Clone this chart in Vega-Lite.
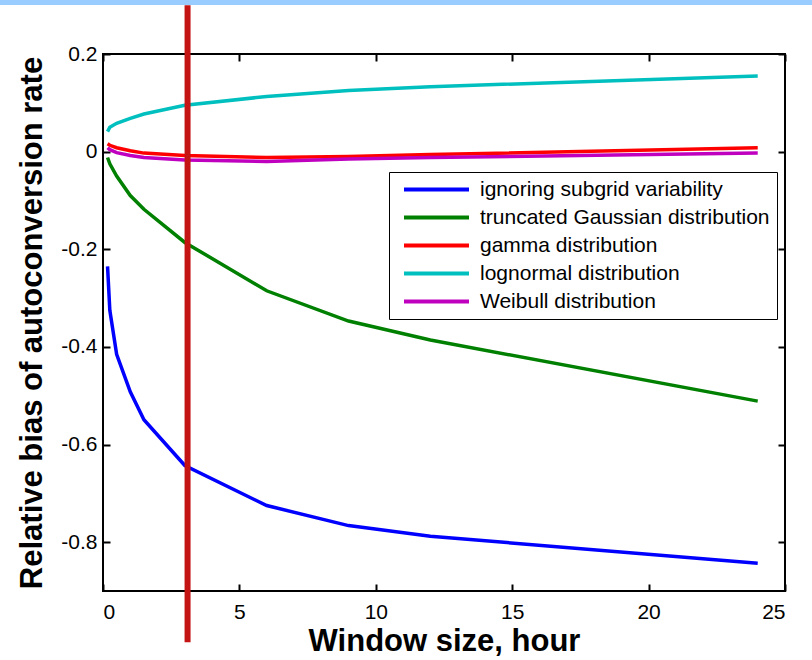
{
  "$schema": "https://vega.github.io/schema/vega-lite/v6.json",
  "width": 682,
  "height": 537,
  "autosize": {"type": "none"},
  "padding": {"left": 103, "top": 54, "right": 27, "bottom": 69},
  "background": "white",
  "config": {
    "view": {"stroke": "#000000", "strokeWidth": 2},
    "font": "Liberation Sans",
    "axis": {
      "domain": false,
      "tickColor": "#000000",
      "tickOpacity": 1,
      "tickWidth": 2,
      "tickSize": -7,
      "grid": false,
      "labelColor": "black",
      "titleColor": "black",
      "labelFont": "Liberation Sans",
      "titleFont": "Liberation Sans",
      "labelFontSize": 21,
      "titleFontSize": 31,
      "titleFontWeight": "bold"
    },
    "legend": {
      "orient": "none",
      "legendX": 286,
      "legendY": 118,
      "strokeColor": "black",
      "fillColor": "white",
      "padding": 7,
      "labelFont": "Liberation Sans",
      "labelFontSize": 21,
      "labelColor": "black",
      "labelLimit": 500,
      "symbolType": "M-5,0H5",
      "symbolSize": 169,
      "symbolStrokeWidth": 4,
      "symbolOffset": 30,
      "labelOffset": 33,
      "rowPadding": 6
    }
  },
  "layer": [
    {
      "data": {
        "values": [
          {"x": 0.1667, "y": -0.235, "series": "ignoring subgrid variability"},
          {"x": 0.25, "y": -0.325, "series": "ignoring subgrid variability"},
          {"x": 0.5, "y": -0.415, "series": "ignoring subgrid variability"},
          {"x": 1, "y": -0.492, "series": "ignoring subgrid variability"},
          {"x": 1.5, "y": -0.549, "series": "ignoring subgrid variability"},
          {"x": 3, "y": -0.643, "series": "ignoring subgrid variability"},
          {"x": 6, "y": -0.725, "series": "ignoring subgrid variability"},
          {"x": 9, "y": -0.766, "series": "ignoring subgrid variability"},
          {"x": 12, "y": -0.788, "series": "ignoring subgrid variability"},
          {"x": 24, "y": -0.843, "series": "ignoring subgrid variability"},
          {"x": 0.1667, "y": -0.012, "series": "truncated Gaussian distribution"},
          {"x": 0.25, "y": -0.025, "series": "truncated Gaussian distribution"},
          {"x": 0.5, "y": -0.05, "series": "truncated Gaussian distribution"},
          {"x": 1, "y": -0.09, "series": "truncated Gaussian distribution"},
          {"x": 1.5, "y": -0.118, "series": "truncated Gaussian distribution"},
          {"x": 3, "y": -0.186, "series": "truncated Gaussian distribution"},
          {"x": 6, "y": -0.285, "series": "truncated Gaussian distribution"},
          {"x": 9, "y": -0.347, "series": "truncated Gaussian distribution"},
          {"x": 12, "y": -0.386, "series": "truncated Gaussian distribution"},
          {"x": 24, "y": -0.511, "series": "truncated Gaussian distribution"},
          {"x": 0.1667, "y": 0.016, "series": "gamma distribution"},
          {"x": 0.25, "y": 0.013, "series": "gamma distribution"},
          {"x": 0.5, "y": 0.008, "series": "gamma distribution"},
          {"x": 1, "y": 0.002, "series": "gamma distribution"},
          {"x": 1.5, "y": -0.003, "series": "gamma distribution"},
          {"x": 3, "y": -0.008, "series": "gamma distribution"},
          {"x": 6, "y": -0.012, "series": "gamma distribution"},
          {"x": 9, "y": -0.01, "series": "gamma distribution"},
          {"x": 12, "y": -0.006, "series": "gamma distribution"},
          {"x": 24, "y": 0.008, "series": "gamma distribution"},
          {"x": 0.1667, "y": 0.041, "series": "lognormal distribution"},
          {"x": 0.25, "y": 0.05, "series": "lognormal distribution"},
          {"x": 0.5, "y": 0.058, "series": "lognormal distribution"},
          {"x": 1, "y": 0.068, "series": "lognormal distribution"},
          {"x": 1.5, "y": 0.077, "series": "lognormal distribution"},
          {"x": 3, "y": 0.095, "series": "lognormal distribution"},
          {"x": 6, "y": 0.113, "series": "lognormal distribution"},
          {"x": 9, "y": 0.125, "series": "lognormal distribution"},
          {"x": 12, "y": 0.133, "series": "lognormal distribution"},
          {"x": 24, "y": 0.155, "series": "lognormal distribution"},
          {"x": 0.1667, "y": 0.008, "series": "Weibull distribution"},
          {"x": 0.25, "y": 0.004, "series": "Weibull distribution"},
          {"x": 0.5, "y": -0.002, "series": "Weibull distribution"},
          {"x": 1, "y": -0.008, "series": "Weibull distribution"},
          {"x": 1.5, "y": -0.012, "series": "Weibull distribution"},
          {"x": 3, "y": -0.017, "series": "Weibull distribution"},
          {"x": 6, "y": -0.02, "series": "Weibull distribution"},
          {"x": 9, "y": -0.015, "series": "Weibull distribution"},
          {"x": 12, "y": -0.012, "series": "Weibull distribution"},
          {"x": 24, "y": -0.003, "series": "Weibull distribution"}
        ]
      },
      "mark": {"type": "line", "strokeWidth": 3.5},
      "encoding": {
        "x": {
          "field": "x", "type": "quantitative",
          "scale": {"domain": [0, 25], "nice": false, "zero": false},
          "axis": {"orient": "bottom", "values": [0, 5, 10, 15, 20, 25], "title": "Window size, hour", "labelPadding": 17, "titlePadding": 4}
        },
        "y": {
          "field": "y", "type": "quantitative",
          "scale": {"domain": [-0.9, 0.2], "nice": false, "zero": false},
          "axis": {"orient": "left", "values": [-0.8, -0.6, -0.4, -0.2, 0, 0.2], "labelExpr": "'' + round(datum.value*10)/10", "title": "Relative bias of autoconversion rate", "labelPadding": 13, "titlePadding": 12}
        },
        "color": {
          "field": "series", "type": "nominal",
          "scale": {
            "domain": ["ignoring subgrid variability", "truncated Gaussian distribution", "gamma distribution", "lognormal distribution", "Weibull distribution"],
            "range": ["#0000FF", "#008000", "#FF0000", "#00BFBF", "#BF00BF"]
          },
          "legend": {"title": null}
        },
        "order": {"field": "x", "type": "quantitative"}
      }
    },
    {
      "data": {"values": [{"x": 3.1, "y": 0.3, "y2": -1.005}]},
      "mark": {"type": "rule", "color": "#C41414", "strokeWidth": 6},
      "encoding": {
        "x": {
          "field": "x", "type": "quantitative",
          "scale": {"domain": [0, 25], "nice": false, "zero": false},
          "axis": {"orient": "top", "values": [0, 5, 10, 15, 20, 25], "labels": false, "title": null}
        },
        "y": {
          "field": "y", "type": "quantitative",
          "scale": {"domain": [-0.9, 0.2], "nice": false, "zero": false},
          "axis": {"orient": "right", "values": [-0.8, -0.6, -0.4, -0.2, 0, 0.2], "labels": false, "title": null}
        },
        "y2": {"field": "y2"}
      }
    },
    {
      "data": {"values": [{"x": -3.78, "x2": 26.0, "y": 0.3106, "y2": 0.3004}]},
      "mark": {"type": "rect", "color": "#99CCFF"},
      "encoding": {
        "x": {"field": "x", "type": "quantitative", "scale": {"domain": [0, 25], "nice": false, "zero": false}, "axis": null},
        "x2": {"field": "x2"},
        "y": {"field": "y", "type": "quantitative", "scale": {"domain": [-0.9, 0.2], "nice": false, "zero": false}, "axis": null},
        "y2": {"field": "y2"}
      }
    }
  ],
  "resolve": {"scale": {"x": "independent", "y": "independent"}}
}
